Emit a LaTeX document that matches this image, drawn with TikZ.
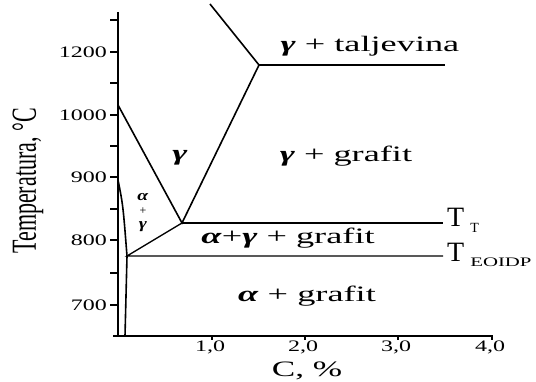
\documentclass[tikz,border=0pt]{standalone}
\usepackage{fontspec}
\setmainfont{Liberation Serif}
\usepackage{graphicx}

\newcommand{\gam}{\textbf{\textit{γ}}}
\newcommand{\alp}{\textbf{\textit{α}}}
\newcommand{\wide}[2][1.65]{\scalebox{#1}[1]{#2}}

\tikzset{
  phase/.style={line width=1.6pt},
  iso/.style={line width=1.3pt},
  region/.style={font=\fontsize{22}{22}\selectfont, inner sep=0pt},
  ticklabel/.style={font=\fontsize{16}{16}\selectfont, inner sep=0pt},
}

\begin{document}
\begin{tikzpicture}[x=1pt, y=-1pt]
    \useasboundingbox (0,0) rectangle (536,382);

    % Draw axes
    \draw[line width=2pt] (118,12) -- (118,336);
    \draw[line width=2pt] (113,336) -- (493,336);

    % Draw temperature ticks and labels
    \foreach \y in {20,52,83,115,146,177,209,240,273,305}
        \draw[iso] (110,\y) -- (118,\y);
    \foreach \y/\lab in {52/1200,115/1000,177/900,240/800,305/700}
        \node[ticklabel, anchor=east] (t\lab) at (107,\y) {\wide[1.5]{\lab}};

    % Draw carbon ticks and labels
    \foreach \x/\lab/\nm in {212/{1,0}/a,305/{2,0}/b,398/{3,0}/c,492/{4,0}/d} {
        \draw[iso] (\x,336) -- (\x,340);
        \node[ticklabel] (c\nm) at (\x-2,347) {\wide[1.5]{\lab}};
    }

    % Draw axis titles
    \node[font=\fontsize{22}{22}\selectfont, inner sep=0pt] (xlab) at (307,371) {\wide[1.6]{C, \%}};
    \node[font=\fontsize{22}{22}\selectfont, rotate=90, inner sep=0pt] (ylab) at (28,181) {\scalebox{1}[1.6]{Temperatura, °C}};

    % Draw phase boundaries
    \coordinate (liq) at (210,4);
    \coordinate (eutectic) at (259,65);
    \coordinate (eutectoid) at (182,223);
    \coordinate (stable) at (127,256);
    \coordinate (gmax) at (118,105);
    \coordinate (asol) at (118,180);
    \draw[phase] (liq) -- (eutectic) -- (eutectoid) -- (gmax);
    \draw[phase] (eutectic) -- (445,65);
    \draw[iso] (eutectoid) -- (443,223) coordinate (tt);
    \draw[iso] (eutectoid) -- (stable) -- (443,256) coordinate (teoidp);
    \draw[phase] (asol) .. controls (123,205) .. (stable) -- (125,336);

    % Draw region labels
    \node[region, anchor=base] (liqlab) at (370,52) {\wide{\gam{} + taljevina}};
    \node[region, anchor=base] (gglab) at (346,162) {\wide{\gam{} + grafit}};
    \node[region, anchor=base] (agglab) at (288,244) {\wide{\alp+\gam{} + grafit}};
    \node[region, anchor=base] (aglab) at (307,302) {\wide{\alp{} + grafit}};
    \node[region] (glab) at (180,158) {\wide{\gam}};
    \node[font=\fontsize{15}{15}\selectfont, inner sep=0pt] (alab) at (143,197) {\wide[1.3]{\alp}};
    \node[font=\fontsize{12}{12}\selectfont, inner sep=0pt] (plab) at (143,211) {+};
    \node[font=\fontsize{15}{15}\selectfont, inner sep=0pt] (glab2) at (143,227) {\wide[1.3]{\gam}};

    % Draw temperature marks
    \node[anchor=base west, inner sep=0pt] (ttlab) at (447,227)
        {\fontsize{28}{28}\selectfont T\kern6pt\raisebox{-6pt}{\fontsize{14}{14}\selectfont T}};
    \node[anchor=base west, inner sep=0pt] (telab) at (447,262)
        {\fontsize{28}{28}\selectfont T\kern6pt\raisebox{-5pt}{\wide[1.6]{\fontsize{13}{13}\selectfont EOIDP}}};
\end{tikzpicture}
\end{document}
